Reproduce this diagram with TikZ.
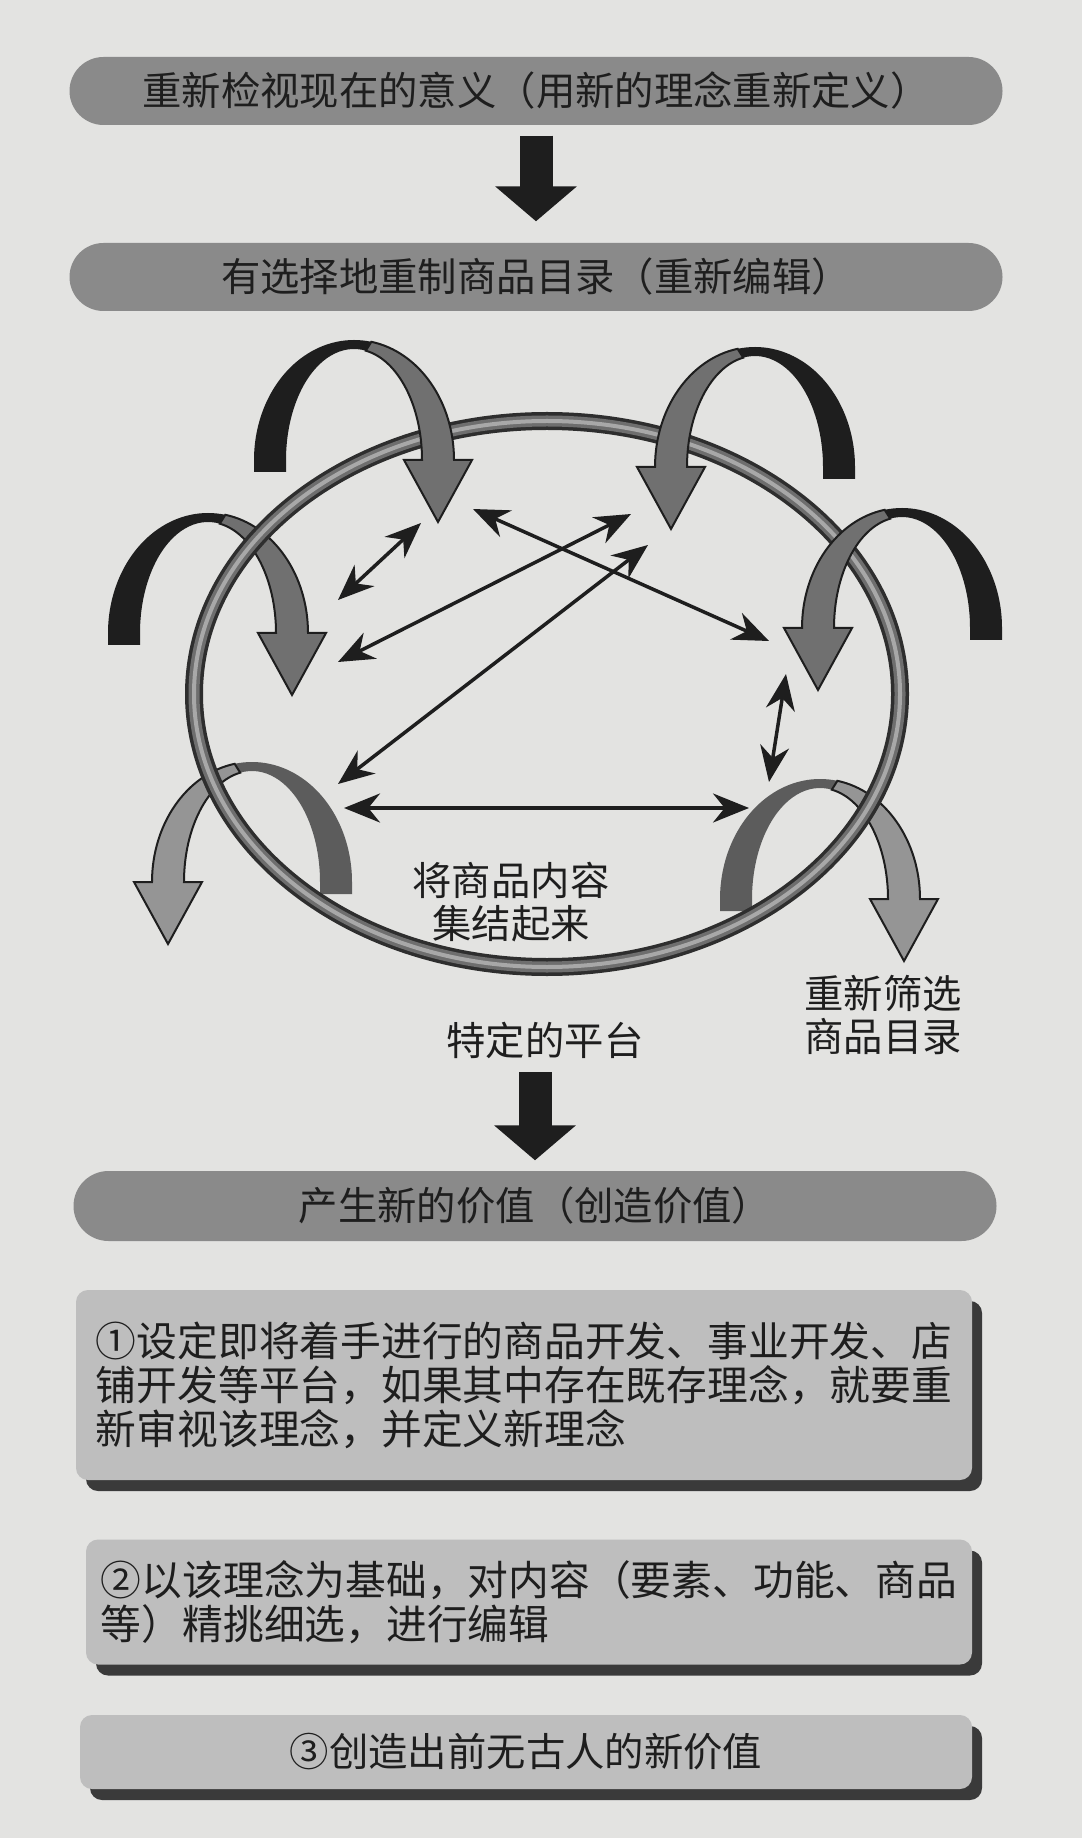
\documentclass[tikz,border=0pt]{standalone}
\usepackage{fontspec}
\usetikzlibrary{positioning,arrows.meta,shadows}
\newfontfamily\cjk{Noto Sans CJK SC}
\definecolor{paper}{HTML}{E3E3E1}
\definecolor{pillgray}{HTML}{8A8A8A}
\definecolor{panelgray}{HTML}{BEBEBE}
\definecolor{shadowgray}{HTML}{3A3A3A}
\definecolor{inkdark}{HTML}{1E1E1E}
\definecolor{ribbongray}{HTML}{707070}
\definecolor{ribbonmid}{HTML}{5C5C5C}
\definecolor{ribbonlight}{HTML}{959595}
\definecolor{ringdark}{HTML}{2E2E2E}
\definecolor{ringmid}{HTML}{6E6E6E}
\definecolor{ringlight}{HTML}{A8A8A8}

% curved ribbon arrow: x, y (head base), direction, tail colour, head colour
\newcommand{\ribbon}[5]{%
  \begin{scope}[shift={(#1,#2)}, xscale=#3]
    \fill[#4] (-100,12) -- (-100,0) arc[start angle=180, end angle=280, x radius=100, y radius=120]
      -- (280:68 and 111) arc[start angle=280, end angle=180, x radius=68, y radius=111] -- (-68,12) -- cycle;
    \filldraw[fill=#5, draw=inkdark, line width=0.2mm] (280:100 and 120)
      arc[start angle=280, end angle=360, x radius=100, y radius=120] -- (118,0) -- (84,62) -- (50,0) -- (68,0)
      arc[start angle=360, end angle=280, x radius=68, y radius=111] -- cycle;
  \end{scope}}

\begin{document}
\begin{tikzpicture}[x=0.1mm, y=-0.1mm, text=inkdark, font=\cjk\fontsize{11.2}{13}\selectfont,
  pill/.style={fill=pillgray, rounded corners=3.4mm, minimum width=93.3mm, minimum height=6.8mm, inner sep=0pt},
  panel/.style={fill=panelgray, rounded corners=1.2mm, inner sep=0pt, align=left,
    font=\cjk\fontsize{11.6}{12.5}\selectfont,
    drop shadow={shadow xshift=1mm, shadow yshift=-1.1mm, fill=shadowgray, opacity=1}},
  blockarr/.style={draw=inkdark, line width=3.3mm, -{Triangle[length=3.5mm, width=8mm]}},
  dbl/.style={draw=inkdark, line width=0.35mm, {Stealth[length=3.6mm, width=2.9mm]}-{Stealth[length=3.6mm, width=2.9mm]}},
  lbl/.style={align=center, inner sep=0pt, font=\cjk\fontsize{11.2}{12}\selectfont}]
\fill[paper] (0,0) rectangle (1082,1838);
\useasboundingbox (0,0) rectangle (1082,1838);

% top steps
\node[pill] (mean) at (536,91) {重新检视现在的意义（用新的理念重新定义）};
\node[pill] (edit) at (536,277) {有选择地重制商品目录（重新编辑）};
\draw[blockarr, shorten <=1mm, shorten >=2.1mm] (mean) -- (edit);

% ribbons behind the ring
\ribbon{208}{633}{1}{inkdark}{ribbongray}
\ribbon{252}{882}{-1}{ribbonmid}{ribbonlight}
\ribbon{820}{899}{1}{ribbonmid}{ribbonlight}

% the ring
\draw[ringdark, line width=1.8mm] (547,694) ellipse [x radius=353, y radius=273];
\draw[ringmid, line width=1.1mm] (547,694) ellipse [x radius=353, y radius=273];
\draw[ringlight, line width=0.4mm] (547,694) ellipse [x radius=353, y radius=273];

% ribbons in front of the ring
\ribbon{354}{460}{1}{inkdark}{ribbongray}
\ribbon{755}{467}{-1}{inkdark}{ribbongray}
\ribbon{902}{628}{-1}{inkdark}{ribbongray}

% inner links
\coordinate (mlUp) at (338,600);
\coordinate (mlLow) at (338,662);
\coordinate (tlIn) at (421,523);
\coordinate (tlOut) at (473,509);
\coordinate (trIn) at (631,514);
\coordinate (trLow) at (648,545);
\coordinate (mrIn) at (769,641);
\coordinate (mrLow) at (786,674);
\coordinate (brUp) at (769,782);
\coordinate (brIn) at (749,808);
\coordinate (blUp) at (338,784);
\coordinate (blIn) at (344,808);
\draw[dbl] (mlUp) -- (tlIn);
\draw[dbl] (tlOut) -- (mrIn);
\draw[dbl] (mlLow) -- (trIn);
\draw[dbl] (blUp) -- (trLow);
\draw[dbl] (mrLow) -- (brUp);
\draw[dbl] (blIn) -- (brIn);

% labels
\node[lbl] (gather) at (511,902) {将商品内容\\集结起来};
\node[lbl] (refine) at (883,1015) {重新筛选\\商品目录};
\node[lbl] (plat) at (545,1040) {特定的平台};

% result
\node[pill, minimum width=92.3mm, minimum height=7mm, rounded corners=3.5mm] (value) at (535,1206) {产生新的价值（创造价值）};
\draw[blockarr, shorten <=1.3mm, shorten >=1mm] (value.north |- plat.south) -- (value.north);

\node[panel, minimum width=89.6mm, minimum height=19mm] (step1) at (524,1385)
  {①设定即将着手进行的商品开发、事业开发、店\\铺开发等平台，如果其中存在既存理念，就要重\\新审视该理念，并定义新理念};
\node[panel, minimum width=88.6mm, minimum height=12.5mm] (step2) at (529,1602)
  {②以该理念为基础，对内容（要素、功能、商品\\等）精挑细选，进行编辑};
\node[panel, minimum width=89.2mm, minimum height=7.4mm, align=center, font=\cjk\fontsize{11.2}{13}\selectfont] (step3) at (526,1752)
  {③创造出前无古人的新价值};
\end{tikzpicture}
\end{document}
